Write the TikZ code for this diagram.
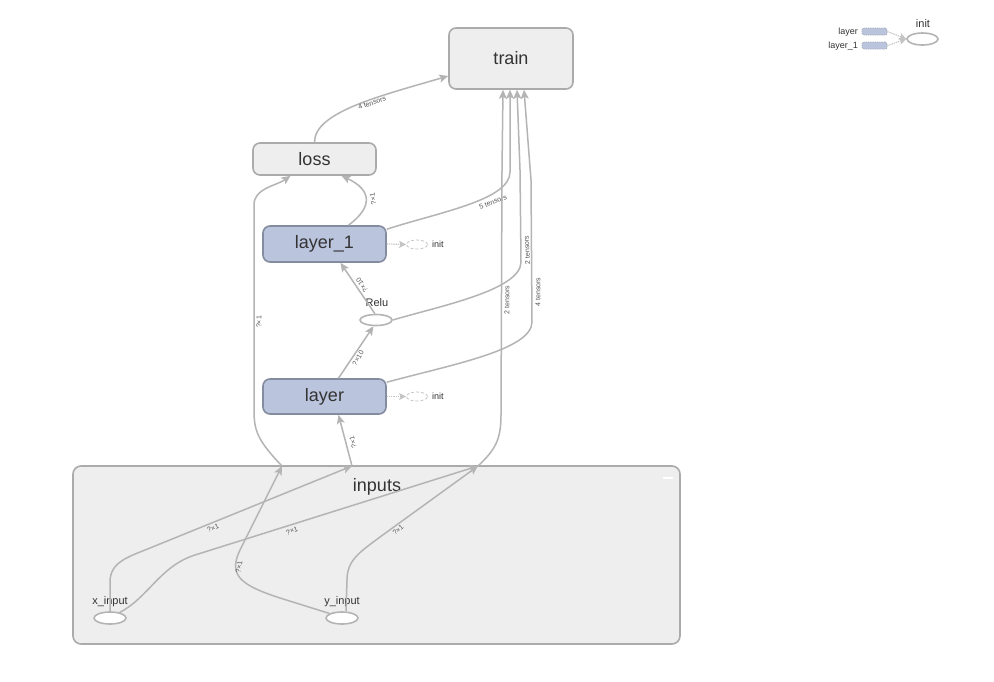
\documentclass[tikz,border=0pt]{standalone}
\usepackage{fontspec}
\setmainfont{Liberation Sans}
\usetikzlibrary{arrows.meta,shapes.geometric}
\definecolor{edgegray}{HTML}{B4B4B4}
\definecolor{boxfill}{HTML}{EEEEEE}
\definecolor{boxline}{HTML}{ABABAB}
\definecolor{opfill}{HTML}{BAC4DC}
\definecolor{opline}{HTML}{848D9F}
\definecolor{txt}{HTML}{333333}
\definecolor{lbl}{HTML}{555555}
\definecolor{dashgray}{HTML}{C4C4C4}
\begin{document}
\begin{tikzpicture}[x=1pt,y=-1pt,
  meta/.style={draw=boxline, fill=boxfill, line width=1.6pt, rounded corners=7pt, inner sep=0pt, text=txt, font=\fontsize{18}{20}\selectfont},
  opbox/.style={draw=opline, fill=opfill, line width=1.6pt, rounded corners=7pt, inner sep=0pt, text=txt, font=\fontsize{18}{20}\selectfont},
  grpbox/.style={draw=boxline, fill=boxfill, line width=1.6pt, rounded corners=8pt, inner sep=0pt},
  opell/.style={ellipse, draw=edgegray, fill=white, line width=1.6pt, inner sep=0pt},
  initell/.style={ellipse, draw=dashgray, densely dashed, fill=white, line width=0.8pt, inner sep=0pt, minimum width=21pt, minimum height=9pt},
  legbox/.style={draw=opline!80, densely dotted, fill=opfill, rounded corners=2pt, line width=0.8pt, minimum width=25pt, minimum height=7pt, inner sep=0pt},
  small/.style={text=txt, font=\fontsize{11}{12}\selectfont, inner sep=0pt},
  tiny/.style={text=txt, font=\fontsize{9}{10}\selectfont, inner sep=0pt},
  elab/.style={text=lbl, font=\fontsize{7}{8}\selectfont, inner sep=0pt},
  edge/.style={draw=edgegray, line width=1.5pt, -{Stealth[length=9pt,width=8pt,inset=2pt]}},
  ctrl/.style={draw=dashgray, line width=1.2pt, densely dotted, -{Stealth[length=7pt,width=7pt,inset=1.5pt]}}
]
\useasboundingbox (0,0) rectangle (994,681);
\fill[white] (0,0) rectangle (994,681);

% group
\node[grpbox, minimum width=607pt, minimum height=178pt] (grp) at (376.5,555) {};
\node[text=txt, font=\fontsize{18}{20}\selectfont, inner sep=0pt] (grplbl) at (377,487) {inputs};
\draw[white, line width=2pt] (663,478) -- (673,478);

% main nodes
\node[meta, minimum width=124pt, minimum height=61pt] (train) at (511,58.5) {train};
\node[meta, minimum width=123pt, minimum height=32pt] (loss) at (314.5,159) {loss};
\node[opbox, minimum width=123pt, minimum height=36pt] (layer1) at (324.5,244) {layer\_1};
\node[opbox, minimum width=123pt, minimum height=35pt] (layer) at (324.5,396.5) {layer};
\node[opell, minimum width=32pt, minimum height=11pt] (relu) at (376,320) {};
\node[small] (relulbl) at (377,303) {Relu};

\node[initell] (init1) at (417,244.5) {};
\node[tiny, anchor=west] (init1lbl) at (432,244.5) {init};
\node[initell] (init0) at (417,396.5) {};
\node[tiny, anchor=west] (init0lbl) at (432,396.5) {init};

\node[opell, minimum width=32pt, minimum height=12pt] (xin) at (110,618) {};
\node[small] (xinlbl) at (110,602) {x\_input};
\node[opell, minimum width=32pt, minimum height=12pt] (yin) at (342,618) {};
\node[small] (yinlbl) at (342,602) {y\_input};

% bridge points on the group border
\coordinate (bL) at (282,466);
\coordinate (bM) at (352,466);
\coordinate (bR) at (478,466);

% edges outside the group
\draw[edge] (loss.north) .. controls (314.5,112) and (380,96) .. ([yshift=-17.5pt]train.west);
\node[elab, rotate=18] at (372,103) {4 tensors};

\draw[edge] ([xshift=24pt]layer1.north) .. controls (373,207) and (372,190) .. ([xshift=27pt]loss.south);
\node[elab, rotate=100] at (373,199) {?×1};

\draw[edge] ([yshift=-4pt]layer1.north east) .. controls (440,212) and (510,200) .. (510,172) -- ([xshift=-1pt]train.south);
\node[elab, rotate=21] at (493,202) {5 tensors};

\draw[edge] (relu.100) -- ([xshift=16pt]layer1.south);
\node[elab, rotate=123] at (362,285) {?×10};

\draw[edge] (relu.east) .. controls (440,306) and (521,290) .. (521,262) -- (520,170) -- ([xshift=6pt]train.south);
\node[elab, rotate=93] at (527,250) {2 tensors};

\draw[edge] ([xshift=14pt]layer.north) -- (relu.-112);
\node[elab, rotate=59] at (358,358) {?×10};

\draw[edge] ([yshift=-4pt]layer.north east) .. controls (450,365) and (532,350) .. (532,322) -- (531,180) -- ([xshift=13pt]train.south);
\node[elab, rotate=90] at (538,292) {4 tensors};

\draw[edge] (bL) .. controls (257,440) and (254,430) .. (254,410) -- (254,205) .. controls (254,188) and (276,186) .. ([xshift=-24pt]loss.south);
\node[elab, rotate=90] at (259,322) {?×1};

\draw[edge] (bM) -- ([xshift=14pt]layer.south);
\node[elab, rotate=105] at (353,442) {?×1};

\draw[edge] (bR) .. controls (495,450) and (501,440) .. (501,415) -- (502,170) -- ([xshift=-8pt]train.south);
\node[elab, rotate=90] at (507,300) {2 tensors};

% edges inside the group
\draw[edge] (xin.north) -- (110,582) .. controls (110,562) and (128,557) .. (150,548) -- (bM);
\node[elab, rotate=22] at (213,528) {?×1};

\draw[edge] (xin.30) .. controls (148,598) and (160,566) .. (195,555) -- (bR);
\node[elab, rotate=18] at (292,531) {?×1};

\draw[edge] (yin.160) -- (280,598) .. controls (240,585) and (228,575) .. (240,550) -- (bL);
\node[elab, rotate=80] at (239,567) {?×1};

\draw[edge] ([xshift=4pt]yin.north) -- (347,580) .. controls (347,560) and (360,552) .. (380,537) -- (bR);
\node[elab, rotate=40] at (398,530) {?×1};

% init control edges
\draw[ctrl] (layer1.east) -- (init1.west);
\draw[ctrl] (layer.east) -- (init0.west);

% legend top right
\node[legbox] (lg0) at (874.5,31.5) {};
\node[legbox] (lg1) at (874.5,45.5) {};
\node[tiny, anchor=east] (lg0lbl) at (858,32) {layer};
\node[tiny, anchor=east] (lg1lbl) at (858,46) {layer\_1};
\node[opell, minimum width=31pt, minimum height=12pt] (ginit) at (922.5,39) {};
\node[small] (ginitlbl) at (923,24) {init};
\draw[ctrl] (lg0.east) -- (ginit.west);
\draw[ctrl] (lg1.east) -- (ginit.west);
\end{tikzpicture}
\end{document}
